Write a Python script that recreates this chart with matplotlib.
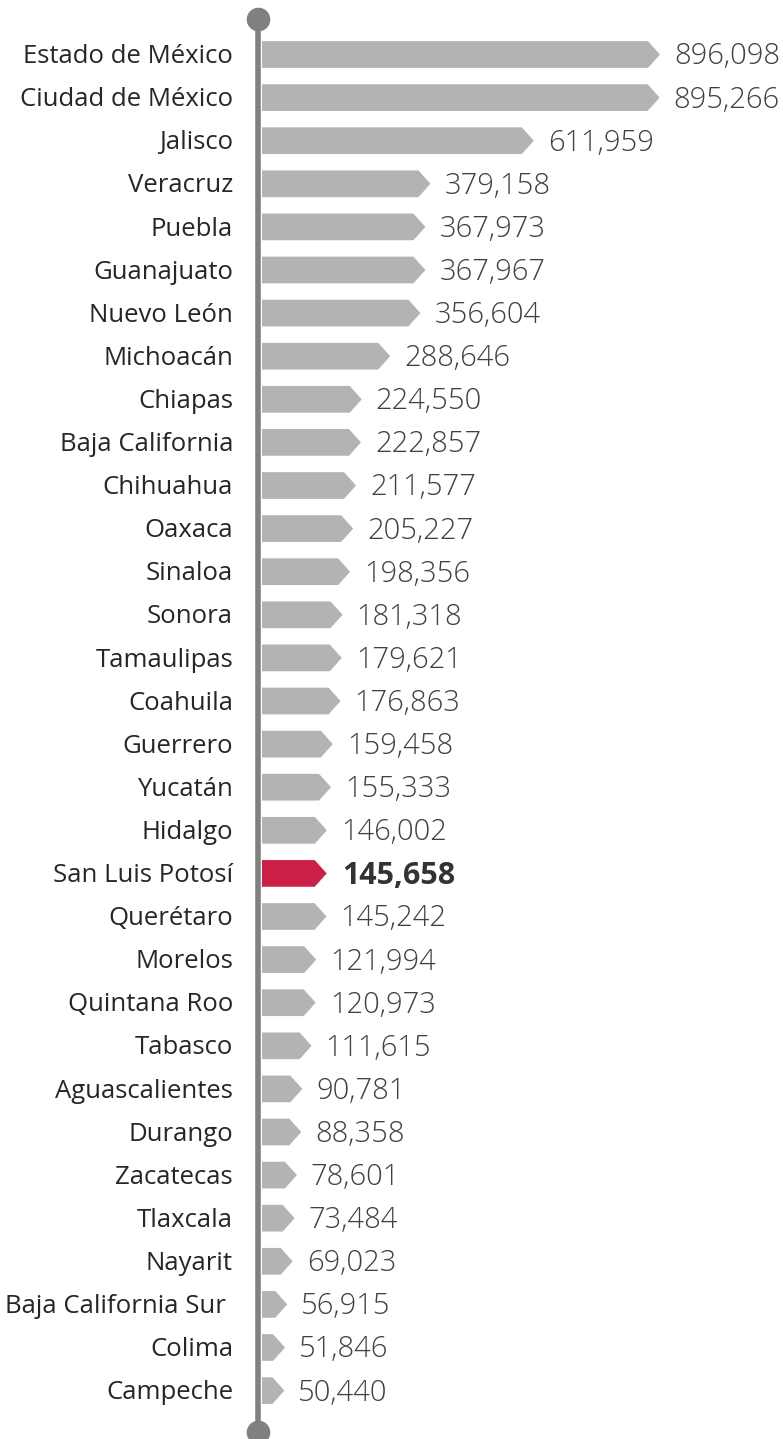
import matplotlib.pyplot as plt
from matplotlib.patches import Polygon

estados = ["Estado de México", "Ciudad de México", "Jalisco", "Veracruz", "Puebla",
           "Guanajuato", "Nuevo León", "Michoacán", "Chiapas", "Baja California",
           "Chihuahua", "Oaxaca", "Sinaloa", "Sonora", "Tamaulipas", "Coahuila",
           "Guerrero", "Yucatán", "Hidalgo", "San Luis Potosí", "Querétaro", "Morelos",
           "Quintana Roo", "Tabasco", "Aguascalientes", "Durango", "Zacatecas",
           "Tlaxcala", "Nayarit", "Baja California Sur ", "Colima", "Campeche"]
valores = [896098, 895266, 611959, 379158, 367973, 367967, 356604, 288646, 224550,
           222857, 211577, 205227, 198356, 181318, 179621, 176863, 159458, 155333,
           146002, 145658, 145242, 121994, 120973, 111615, 90781, 88358, 78601,
           73484, 69023, 56915, 51846, 50440]
destacado = "San Luis Potosí"

W, H = 783, 1439
fig = plt.figure(figsize=(W / 100, H / 100), dpi=100)
x0 = 262
ax = fig.add_axes([x0 / W, 0, (W - x0) / W, 1])
xmax = max(valores) * (W - x0) / 398
ax.set_xlim(0, xmax)
paso = 43.1
y_top = 54.5
ax.set_ylim((H - y_top) / paso, -y_top / paso)
ax.axis("off")

px = xmax / (W - x0)  # unidades de datos por pixel en x
py = 1 / paso
punta = 12 * px
alto = 0.31

gris = "#b3b3b3"
rojo = "#cc1f47"

for i, (e, v) in enumerate(zip(estados, valores)):
    c = rojo if e == destacado else gris
    cuerpo = max(v - punta, 0)
    pts = [(0, i - alto), (cuerpo, i - alto), (v, i), (cuerpo, i + alto), (0, i + alto)]
    ax.add_patch(Polygon(pts, closed=True, facecolor=c, edgecolor="none"))
    if e == destacado:
        ax.text(v + 16 * px, i + 0.05, f"{v:,}", ha="left", va="center", fontsize=22,
                fontweight="bold", color="#333333", family="Open Sans")
    else:
        ax.text(v + 14 * px, i + 0.05, f"{v:,}", ha="left", va="center", fontsize=21,
                fontweight="light", color="#404040", family="Open Sans", clip_on=False)
    ax.text(-29 * px, i + 0.05, e, ha="right", va="center", fontsize=18.5,
            color="#262626", family="Open Sans", clip_on=False)

# eje vertical con puntos en los extremos
xl = -4 * px
y1 = -(y_top - 19) * py
y2 = (1432 - y_top) * py
ax.plot([xl, xl], [y1, y2], color="#808080", lw=4, solid_capstyle="butt", clip_on=False)
ax.plot([xl, xl], [y1, y2], "o", color="#808080", ms=16, clip_on=False)

fig.savefig("out.png", dpi=100)
